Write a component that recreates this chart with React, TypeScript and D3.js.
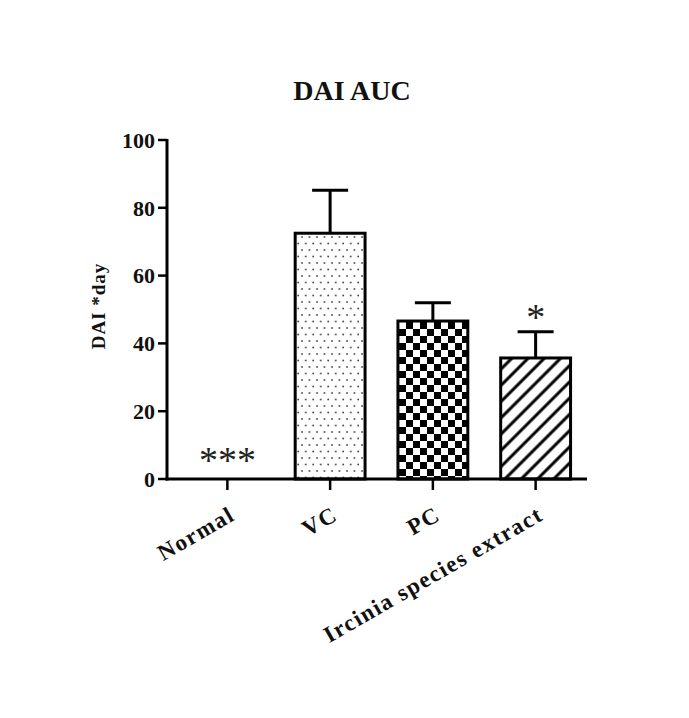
import React from "react";
import * as d3 from "d3";

const categories = ["Normal", "VC", "PC", "Ircinia species extract"];
const means = [0, 72.5, 46.6, 35.7];
const errors = [0, 12.7, 5.4, 7.7];
const patterns = ["none", "dots", "checker", "hatch"];
const annotations = ["***", "", "", "*"];
const yTicks = [0, 20, 40, 60, 80, 100];

const W = 689;
const H = 718;
const axisX = 167;
const axisY0 = 479;
const axisTop = 140;
const axisRight = 587;

export default function App() {
  const y = d3.scaleLinear().domain([0, 100]).range([axisY0, axisTop]);
  const x = d3
    .scaleBand<string>()
    .domain(categories)
    .range([176, axisRight])
    .paddingInner(0.32)
    .paddingOuter(0.16);
  const bw = x.bandwidth();
  const font = "'Liberation Serif', 'Times New Roman', serif";

  const fillFor = (p: string) =>
    p === "dots" ? "url(#dots)" : p === "checker" ? "url(#checker)" : p === "hatch" ? "url(#hatch)" : "white";

  return (
    <svg width={W} height={H} style={{ position: "absolute", left: 0, top: 0, background: "white" }}>
      <defs>
        <pattern id="dots" patternUnits="userSpaceOnUse" width={7.5} height={13} x={0} y={0}>
          <rect width={7.5} height={13} fill="white" />
          <circle cx={2} cy={3} r={0.9} fill="#444" />
          <circle cx={5.75} cy={9.5} r={0.9} fill="#444" />
        </pattern>
        <pattern id="checker" patternUnits="userSpaceOnUse" width={14} height={14} x={0} y={0}>
          <rect width={14} height={14} fill="white" />
          <rect x={0} y={0} width={7} height={7} fill="black" />
          <rect x={7} y={7} width={7} height={7} fill="black" />
        </pattern>
        <pattern
          id="hatch"
          patternUnits="userSpaceOnUse"
          width={11.5}
          height={11.5}
          patternTransform="rotate(45)"
        >
          <rect width={11.5} height={11.5} fill="white" />
          <line x1={5.75} y1={0} x2={5.75} y2={11.5} stroke="black" strokeWidth={3} />
        </pattern>
      </defs>

      <text
        x={352}
        y={100}
        textAnchor="middle"
        fontFamily={font}
        fontWeight="bold"
        fontSize={28}
        fill="#111"
      >
        DAI AUC
      </text>

      {categories.map((c, i) => {
        const x0 = x(c)!;
        const cx = x0 + bw / 2;
        const top = y(means[i]);
        const capY = y(means[i] + errors[i]);
        return (
          <g key={c}>
            {means[i] > 0 && (
              <>
                <line x1={cx} x2={cx} y1={top} y2={capY} stroke="black" strokeWidth={3} />
                <line x1={cx - 18} x2={cx + 18} y1={capY} y2={capY} stroke="black" strokeWidth={3} />
                <rect
                  x={x0}
                  y={top}
                  width={bw}
                  height={axisY0 - top}
                  fill={fillFor(patterns[i])}
                  stroke="black"
                  strokeWidth={3}
                />
              </>
            )}
            {annotations[i] && (
              <text
                x={cx}
                y={means[i] > 0 ? capY - 2 : axisY0 - 6}
                textAnchor="middle"
                fontFamily={font}
                fontSize={38}
                fill="#222"
              >
                {annotations[i]}
              </text>
            )}
            <line x1={cx} x2={cx} y1={axisY0} y2={axisY0 + 11} stroke="black" strokeWidth={2.5} />
            <text
              transform={`translate(${cx + 9},${axisY0 + 40}) rotate(-30)`}
              textAnchor="end"
              fontFamily={font}
              fontWeight="bold"
              fontSize={23}
              letterSpacing={1.5}
              fill="#111"
            >
              {c}
            </text>
          </g>
        );
      })}

      {/* axes */}
      <line x1={axisX} x2={axisX} y1={axisTop - 1} y2={axisY0 + 1.5} stroke="black" strokeWidth={3} />
      <line x1={axisX - 1.5} x2={axisRight} y1={axisY0} y2={axisY0} stroke="black" strokeWidth={3} />
      {yTicks.map((t) => (
        <g key={t}>
          <line x1={axisX - 9} x2={axisX} y1={y(t)} y2={y(t)} stroke="black" strokeWidth={2.5} />
          <text
            x={axisX - 12}
            y={y(t)}
            dy="0.35em"
            textAnchor="end"
            fontFamily={font}
            fontWeight="bold"
            fontSize={22}
            fill="#111"
          >
            {t}
          </text>
        </g>
      ))}
      <text
        transform={`translate(105,306) rotate(-90)`}
        textAnchor="middle"
        fontFamily={font}
        fontWeight="bold"
        fontSize={19}
        letterSpacing={1}
        fill="#111"
      >
        DAI *day
      </text>
    </svg>
  );
}
